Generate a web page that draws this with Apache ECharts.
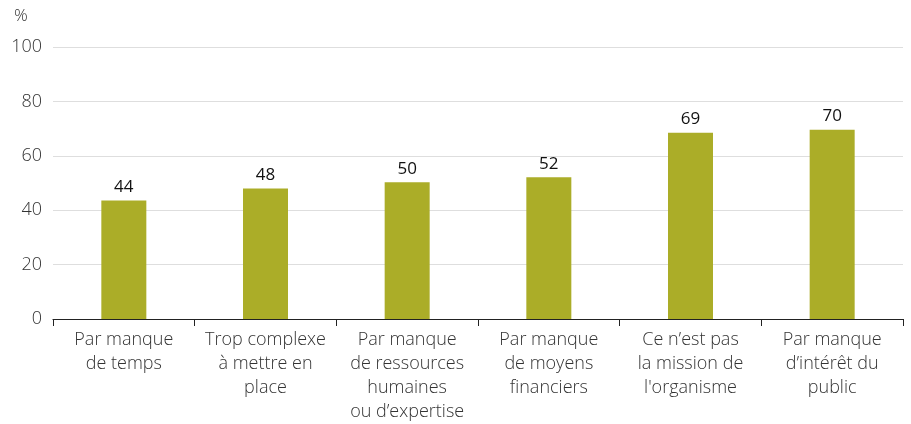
<!DOCTYPE html>
<html><head><meta charset="utf-8">
<script src="https://cdn.jsdelivr.net/npm/echarts@6/dist/echarts.min.js"></script>
<style>html,body{margin:0;padding:0;background:#fff}#c{width:911px;height:424px}</style>
</head><body><div id="c"></div>
<script>
const categories = ["Par manque\nde temps","Trop complexe\nà mettre en\nplace","Par manque\nde ressources\nhumaines\nou d’expertise","Par manque\nde moyens\nfinanciers","Ce n’est pas\nla mission de\nl'organisme","Par manque\nd’intérêt du\npublic"];
const values = [43.6, 48.0, 50.3, 52.1, 68.5, 69.6];
const yTicks = [0, 20, 40, 60, 80, 100];
const unit = "%";
const chart = echarts.init(document.getElementById('c'));
const F = "'Open Sans', sans-serif";
chart.setOption({
  animation:false,
  grid:{left:53,right:8,top:47,bottom:104,containLabel:false},
  graphic:[{type:'text',left:14,top:8,style:{text:unit,font:"300 17px 'Open Sans'",fill:'#333'}}],
  xAxis:{type:'category',data:categories,
    axisLine:{lineStyle:{color:'#222',width:1.2}},
    axisTick:{show:true,alignWithLabel:false,length:7,lineStyle:{color:'#222'}},
    axisLabel:{interval:0,color:'#333',fontFamily:F,fontWeight:300,fontSize:18,lineHeight:24,margin:9}},
  yAxis:{type:'value',min:yTicks[0],max:yTicks[yTicks.length-1],interval:20,
    axisLine:{show:false},axisTick:{show:false},
    splitLine:{lineStyle:{color:'#dedede',width:1.2}},
    axisLabel:{color:'#333',fontFamily:F,fontWeight:300,fontSize:18,margin:11}},
  series:[{type:'bar',data:values,barWidth:45,
    itemStyle:{color:'#abad28'},
    label:{show:true,position:'top',distance:5,color:'#111',fontFamily:F,fontSize:17,
      formatter:p=>Math.round(p.value)}}]
});
</script></body></html>
